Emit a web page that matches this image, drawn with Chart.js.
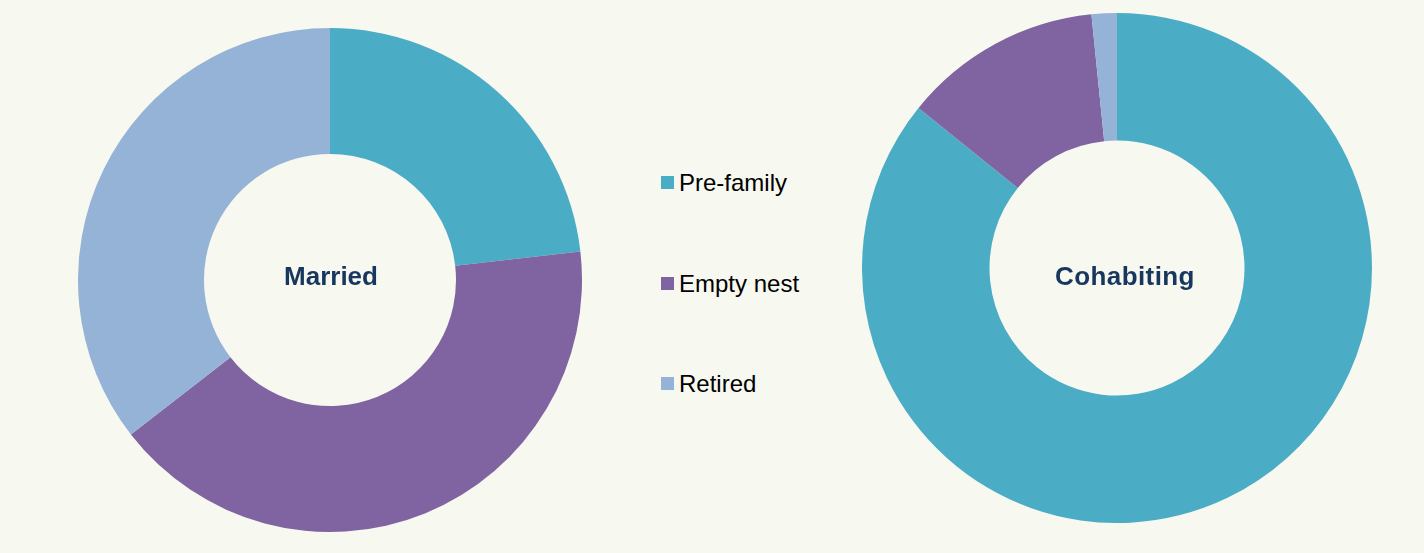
<!DOCTYPE html>
<html>
<head>
<meta charset="utf-8">
<script src="https://cdn.jsdelivr.net/npm/chart.js@4/dist/chart.umd.min.js"></script>
<style>
  html, body { margin: 0; padding: 0; }
  body { width: 1424px; height: 553px; background: #f7f8f0; position: relative; overflow: hidden; font-family: "Liberation Sans", Arial, sans-serif; }
  .wrap { position: absolute; }
  .center { position: absolute; font-weight: bold; font-size: 26px; color: #17375e; white-space: nowrap; transform: translate(-50%, -50%); line-height: 1; }
  .leg { position: absolute; left: 661px; font-size: 24px; color: #000; white-space: nowrap; line-height: 1; }
  .leg span.box { display: inline-block; width: 13px; height: 13px; margin-right: 5px; vertical-align: middle; position: relative; top: -2px; }
</style>
</head>
<body>
<div class="wrap" style="left:78px; top:28px; width:504px; height:504px;"><canvas id="c1" width="504" height="504"></canvas></div>
<div class="wrap" style="left:862px; top:13px; width:510px; height:510px;"><canvas id="c2" width="510" height="510"></canvas></div>
<div id="legend"></div>
<div class="center" style="left:331px; top:276px;">Married</div>
<div class="center" style="left:1125px; top:276px; letter-spacing:0.4px;">Cohabiting</div>
<script>
const categories = ["Pre-family", "Empty nest", "Retired"];
const colors = ["#4bacc6", "#8064a2", "#95b3d7"];
const marriedValues = [23.2, 41.3, 35.5];
const cohabitingValues = [85.8, 12.6, 1.6];

function makeChart(id, values) {
  return new Chart(document.getElementById(id), {
    type: "doughnut",
    data: {
      labels: categories,
      datasets: [{ data: values, backgroundColor: colors, borderWidth: 0, hoverOffset: 0 }]
    },
    options: {
      responsive: false,
      animation: false,
      cutout: "50%",
      layout: { padding: 0 },
      plugins: { legend: { display: false }, tooltip: { enabled: false } }
    }
  });
}
makeChart("c1", marriedValues);
makeChart("c2", cohabitingValues);

const legendTops = [171, 272, 372];
const legend = document.getElementById("legend");
categories.forEach((c, i) => {
  const d = document.createElement("div");
  d.className = "leg";
  d.style.top = legendTops[i] + "px";
  d.innerHTML = '<span class="box" style="background:' + colors[i] + '"></span>' + c;
  legend.appendChild(d);
});
</script>
</body>
</html>
